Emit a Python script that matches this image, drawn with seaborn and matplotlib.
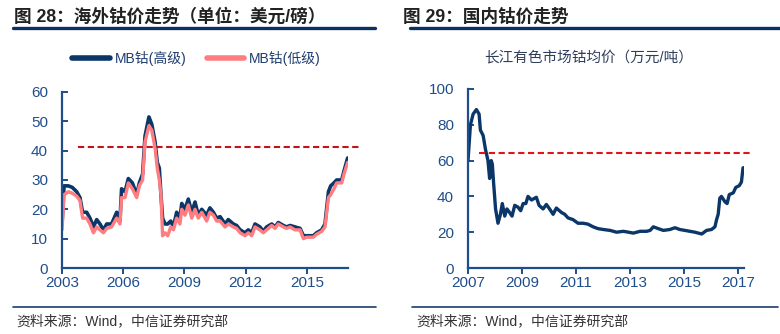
import numpy as np
import pandas as pd
import matplotlib
matplotlib.use("Agg")
import matplotlib.pyplot as plt
import seaborn as sns
from matplotlib.lines import Line2D

# ---------------- data ----------------
mb_years = [2003.0, 2003.1, 2003.31, 2003.5, 2003.72, 2003.88, 2004.01, 2004.21, 2004.37, 2004.54,
            2004.7, 2004.86, 2005.03, 2005.19, 2005.43, 2005.68, 2005.84, 2005.92, 2006.09, 2006.25,
            2006.45, 2006.66, 2006.79, 2006.95, 2007.07, 2007.26, 2007.4, 2007.56, 2007.67, 2007.77,
            2007.85, 2007.93, 2008.05, 2008.18, 2008.33, 2008.46, 2008.62, 2008.78, 2008.87, 2009.03,
            2009.19, 2009.36, 2009.52, 2009.68, 2009.85, 2010.09, 2010.25, 2010.42, 2010.58, 2010.75,
            2010.99, 2011.15, 2011.4, 2011.56, 2011.73, 2011.97, 2012.13, 2012.3, 2012.46, 2012.7,
            2012.87, 2013.03, 2013.28, 2013.44, 2013.6, 2013.85, 2014.01, 2014.18, 2014.42, 2014.67,
            2014.83, 2014.99, 2015.32, 2015.48, 2015.73, 2015.89, 2016.06, 2016.17, 2016.33, 2016.46,
            2016.71, 2016.82, 2017.0]
mb_high = [15, 28, 28, 27.5, 26, 24, 19, 19, 17, 14,
           16.5, 15, 13, 15, 15, 19, 16, 27, 26, 30.5,
           29, 25, 29, 32, 45, 51.5, 49, 43, 36, 34,
           25, 17, 15, 15, 16, 14, 19, 17, 22, 20,
           23.5, 19, 22.5, 18, 20, 18, 20.5, 19, 17, 17.5,
           15, 16.5, 15, 14.5, 13, 12, 13, 12, 15, 14,
           12.5, 14, 15, 14, 15.5, 14.5, 14, 14.5, 14, 13.5,
           11, 11, 11, 12, 13, 15, 26, 28, 29, 30,
           30, 33, 37.5]
mb_low = [13, 25, 26, 25.5, 24.5, 23, 17, 17, 15, 12,
          14, 13, 12, 13.5, 14, 17, 15, 24, 24, 29,
          27, 24, 28, 30, 43, 48.5, 47, 41, 34, 30,
          25, 11, 12, 11, 14, 13, 17, 15, 20, 18,
          21.5, 17, 20, 17, 19, 16, 19, 18, 16, 16,
          14, 15, 14, 13.5, 12, 11, 12, 11, 14, 13,
          12, 13, 14.5, 13.5, 15, 14, 13.5, 14, 13, 13,
          10, 10.5, 10.5, 11.5, 12.5, 14, 24, 25, 27, 29,
          29, 32, 36]
mb_ref = 41.4

cj_years = [2007.0, 2007.09, 2007.19, 2007.31, 2007.41, 2007.46, 2007.56, 2007.65, 2007.74, 2007.8,
            2007.86, 2007.9, 2007.95, 2008.02, 2008.11, 2008.2, 2008.27, 2008.36, 2008.44, 2008.54,
            2008.63, 2008.73, 2008.85, 2008.95, 2009.04, 2009.14, 2009.22, 2009.35, 2009.53, 2009.63,
            2009.78, 2009.9, 2010.02, 2010.15, 2010.27, 2010.46, 2010.58, 2010.7, 2010.89, 2011.07,
            2011.26, 2011.44, 2011.63, 2011.81, 2012.01, 2012.26, 2012.5, 2012.75, 2012.94, 2013.12,
            2013.37, 2013.61, 2013.74, 2013.86, 2014.04, 2014.23, 2014.47, 2014.66, 2014.84, 2015.03,
            2015.21, 2015.4, 2015.65, 2015.83, 2016.01, 2016.14, 2016.2, 2016.26, 2016.32, 2016.38,
            2016.51, 2016.59, 2016.67, 2016.82, 2016.91, 2017.04, 2017.12, 2017.18, 2017.28]
cj_price = [60, 80, 86, 88.5, 86, 77, 74, 66, 60, 50,
            60, 58, 47, 33, 25, 30, 36, 29, 33, 31,
            29, 35, 34, 32, 36, 36, 40, 38, 39.5, 35,
            33, 35.5, 33, 30, 33.5, 31, 30, 28, 27, 25,
            25, 24.5, 23, 22, 21.5, 21, 20, 20.5, 20, 19.5,
            20.5, 20.5, 21, 23, 22, 21, 21.5, 22.5, 21.5, 21,
            20.5, 20, 19, 21, 21.5, 23, 27, 30, 39, 40,
            37, 36, 41, 42, 45, 46, 48, 56, 56]
cj_ref = 64

left_xticks = [2003, 2006, 2009, 2012, 2015]
left_yticks = [0, 10, 20, 30, 40, 50, 60]
right_xticks = [2007, 2009, 2011, 2013, 2015, 2017]
right_yticks = [0, 20, 40, 60, 80, 100]

title_left = "图 28：海外钴价走势（单位：美元/磅）"
title_right = "图 29：国内钴价走势"
legend_labels = ["MB钴(高级)", "MB钴(低级)"]
subtitle_right = "长江有色市场钴均价（万元/吨）"
source_text = "资料来源：Wind，中信证券研究部"

# ---------------- style ----------------
sns.set_style("white")
plt.rcParams['font.family'] = ['Liberation Sans', 'Noto Sans CJK SC', 'DejaVu Sans']

NAVY = '#0a3668'
PINK = '#ff7c80'
AXC = '#1f4e8c'
TXT = '#222222'
CJK = ['Liberation Sans', 'Noto Sans CJK SC']

fig = plt.figure(figsize=(7.8, 3.34), dpi=100)

axL = fig.add_axes([0.0795, 0.1976, 0.3667, 0.527])
axR = fig.add_axes([0.600, 0.1976, 0.354, 0.536])

df_mb = pd.DataFrame({'year': mb_years, 'high': mb_high, 'low': mb_low})
df_cj = pd.DataFrame({'year': cj_years, 'price': cj_price})

sns.lineplot(data=df_mb, x='year', y='high', ax=axL, color=NAVY, lw=2.6, legend=False)
sns.lineplot(data=df_mb, x='year', y='low', ax=axL, color=PINK, lw=2.4, legend=False)
axL.plot([2003.8, 2017.6], [mb_ref, mb_ref], ls=(0, (3, 1.7)), color='#c0141b', lw=1.5, clip_on=False)

sns.lineplot(data=df_cj, x='year', y='price', ax=axR, color=NAVY, lw=2.4, legend=False)
axR.plot([2007.4, 2017.44], [cj_ref, cj_ref], ls=(0, (3, 1.7)), color='#e0141b', lw=1.5, clip_on=False)

def style_axes(ax, xticks, yticks, xlim, ylim):
    ax.set_xlim(*xlim)
    ax.set_ylim(*ylim)
    ax.set_xticks(xticks)
    ax.set_yticks(yticks)
    ax.set_xticklabels([str(t) for t in xticks])
    ax.set_xlabel('')
    ax.set_ylabel('')
    for s in ['top', 'right']:
        ax.spines[s].set_visible(False)
    for s in ['left', 'bottom']:
        ax.spines[s].set_color(AXC)
        ax.spines[s].set_linewidth(1.6)
    ax.tick_params(axis='y', direction='in', length=4, width=1.4, color=AXC,
                   labelcolor=AXC, labelsize=11, pad=10, left=True)
    ax.tick_params(axis='x', direction='out', length=4, width=1.4, color=AXC,
                   labelcolor=AXC, labelsize=11, pad=2, bottom=True)
    ax.grid(False)

style_axes(axL, left_xticks, left_yticks, (2003, 2017.02), (0, 60))
style_axes(axR, right_xticks, right_yticks, (2007, 2017.22), (0, 100))

# legend
handles = [Line2D([], [], color=NAVY, lw=4), Line2D([], [], color=PINK, lw=4)]
fig.legend(handles, legend_labels, loc='center', bbox_to_anchor=(0.252, 0.826), ncol=2,
           frameon=False, prop={'family': CJK, 'size': 10}, labelcolor='#1f3d6e',
           handlelength=2.7, handletextpad=0.35, columnspacing=1.5)

fig.text(0.5 * (483 + 695) / 780, 1 - 58 / 334, subtitle_right, ha='center', va='center',
         fontsize=10.5, color='#2f3d5c', family=CJK)

# titles
fig.text(14 / 780, 1 - 17 / 334, title_left, ha='left', va='center', fontsize=12.7,
         fontweight='bold', color=TXT, family=CJK)
fig.text(403 / 780, 1 - 17 / 334, title_right, ha='left', va='center', fontsize=12.7,
         fontweight='bold', color=TXT, family=CJK)

# title underlines & bottom rules
for x0, x1 in [(13, 375), (410, 780)]:
    fig.add_artist(Line2D([x0 / 780, x1 / 780], [1 - 27.5 / 334] * 2, color='#0c2f5f', lw=2.4))
for x0, x1 in [(13, 376), (412, 778)]:
    fig.add_artist(Line2D([x0 / 780, x1 / 780], [1 - 307 / 334] * 2, color='#1a3d6e', lw=1.2))

fig.text(16 / 780, 1 - 321 / 334, source_text, ha='left', va='center', fontsize=10,
         color='#333333', family=CJK)
fig.text(416 / 780, 1 - 321 / 334, source_text, ha='left', va='center', fontsize=10,
         color='#333333', family=CJK)

fig.savefig('out.png', dpi=100)
